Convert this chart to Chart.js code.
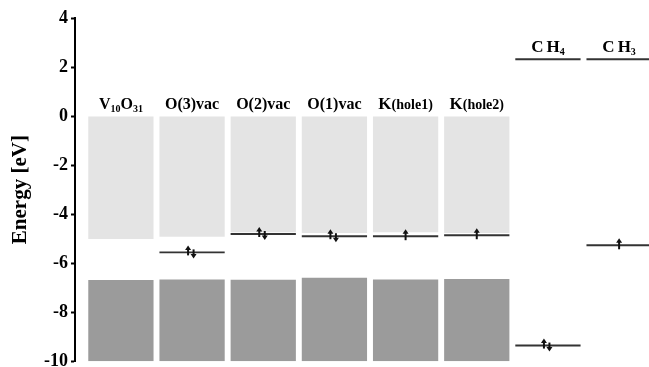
<!DOCTYPE html>
<html>
<head>
<meta charset="utf-8">
<script src="https://cdn.jsdelivr.net/npm/chart.js@4.4.0/dist/chart.umd.min.js"></script>
<style>
  html, body { margin: 0; padding: 0; background: #fff; overflow: hidden; }
  #wrap { width: 649px; height: 371px; position: relative; }
</style>
</head>
<body>
<div id="wrap"><canvas id="c"></canvas></div>
<script>
// Systems compared along the x axis
const systems = ['V10O31', 'O(3)vac', 'O(2)vac', 'O(1)vac', 'K(hole1)', 'K(hole2)', 'CH4', 'CH3'];

// Unoccupied band (light block), eV
const emptyBandTop    = [0, 0, 0, 0, 0, 0];
const emptyBandBottom = [-5.01, -4.92, -4.74, -4.77, -4.74, -4.77];

// Occupied band (dark block), eV
const filledBandTop    = [-6.69, -6.67, -6.68, -6.59, -6.67, -6.65];
const filledBandBottom = [-10, -10, -10, -10, -10, -10];

// Gap states / molecular levels, eV, and their electron count
const levelSystem    = [1, 2, 3, 4, 5, 6, 7];
const levelEnergy    = [-5.56, -4.81, -4.90, -4.90, -4.86, -9.36, -5.27];
const levelElectrons = [2, 2, 2, 1, 1, 2, 1];

// Upper reference level drawn under the gas-phase molecule names, eV
const moleculeSystem = [6, 7];
const moleculeTop    = [2.32, 2.32];

// Energy axis
const yMin = -10, yMax = 4, yStep = 2;

const SERIF = '"Liberation Serif", "Times New Roman", serif';
const LINE_HALF = 0.04; // half thickness of a level line, eV

const bandData = (tops, bottoms) => tops.map((t, i) => ({ x: i, y: [bottoms[i], t] }));
const lineData = (idx, vals) => idx.map((s, i) => ({ x: s, y: [vals[i] - LINE_HALF, vals[i] + LINE_HALF] }));

// Split a system name into rich-text runs (subscripts, small parenthetical)
function labelRuns(name) {
  if (/^K\(/.test(name)) {
    return [{ t: 'K', size: 17 }, { t: name.slice(1), size: 14 }];
  }
  if (name.includes('(')) return [{ t: name, size: 16 }];
  const runs = [];
  const big = /^CH/.test(name) ? 17 : 16;
  name.match(/[A-Za-z]+|\d+/g).forEach(part => {
    if (/\d/.test(part)) runs.push({ t: part, size: 10, sub: true });
    else if (/^CH/.test(name)) part.split('').forEach((ch, k) => runs.push({ t: ch, size: big, gap: k > 0 ? 3 : 0 }));
    else runs.push({ t: part, size: big });
  });
  return runs;
}

function drawRich(ctx, runs, cx, baseline) {
  let total = 0;
  runs.forEach(r => {
    ctx.font = 'bold ' + r.size + 'px ' + SERIF;
    r.w = ctx.measureText(r.t).width;
    total += r.w + (r.gap || 0);
  });
  let x = cx - total / 2;
  ctx.textAlign = 'left';
  ctx.textBaseline = 'alphabetic';
  runs.forEach(r => {
    x += (r.gap || 0);
    ctx.font = 'bold ' + r.size + 'px ' + SERIF;
    ctx.fillText(r.t, x, baseline + (r.sub ? 3 : 0));
    x += r.w;
  });
}

// Spin arrow: shaft plus filled head
function drawArrow(ctx, x, yTail, yHead) {
  const dir = yHead < yTail ? -1 : 1;
  ctx.beginPath();
  ctx.moveTo(x, yTail);
  ctx.lineTo(x, yHead - dir * 3);
  ctx.stroke();
  ctx.beginPath();
  ctx.moveTo(x, yHead);
  ctx.lineTo(x - 3, yHead - dir * 4.5);
  ctx.lineTo(x + 3, yHead - dir * 4.5);
  ctx.closePath();
  ctx.fill();
}

// Names above the columns and spin arrows on the occupied levels
const annotations = {
  id: 'annotations',
  afterDatasetsDraw(chart) {
    const { ctx, scales: { x, y } } = chart;
    ctx.save();
    ctx.fillStyle = '#000';
    systems.forEach((name, i) => {
      const cx = x.getPixelForValue(i);
      const mi = moleculeSystem.indexOf(i);
      const base = mi >= 0 ? y.getPixelForValue(moleculeTop[mi]) - 7 : y.getPixelForValue(emptyBandTop[i]) - 7;
      drawRich(ctx, labelRuns(name), cx, base);
    });
    ctx.strokeStyle = '#111';
    ctx.fillStyle = '#111';
    ctx.lineWidth = 2;
    levelSystem.forEach((s, i) => {
      const cx = x.getPixelForValue(s);
      const py = y.getPixelForValue(levelEnergy[i]);
      if (levelElectrons[i] === 2) {
        drawArrow(ctx, cx - 4, py + 3, py - 7);
        drawArrow(ctx, cx + 1.5, py - 3, py + 6);
      } else {
        drawArrow(ctx, cx, py + 4, py - 7);
      }
    });
    ctx.restore();
  }
};

new Chart(document.getElementById('c'), {
  type: 'bar',
  data: {
    datasets: [
      { label: 'levels', data: lineData(levelSystem, levelEnergy), backgroundColor: '#333', grouped: false },
      { label: 'reference', data: lineData(moleculeSystem, moleculeTop), backgroundColor: '#333', grouped: false },
      { label: 'empty band', data: bandData(emptyBandTop, emptyBandBottom), backgroundColor: '#e4e4e4', grouped: false },
      { label: 'filled band', data: bandData(filledBandTop, filledBandBottom), backgroundColor: '#9b9b9b', grouped: false }
    ]
  },
  options: {
    responsive: true,
    maintainAspectRatio: false,
    animation: false,
    layout: { padding: { top: 18, bottom: 7, left: 0, right: 0 } },
    datasets: { bar: { barPercentage: 0.917, categoryPercentage: 1, borderWidth: 0 } },
    plugins: { legend: { display: false }, tooltip: { enabled: false } },
    scales: {
      x: {
        type: 'linear',
        min: -0.645,
        max: 7.42,
        offset: false,
        display: false,
        grid: { offset: false },
        ticks: { stepSize: 1, includeBounds: false }
      },
      y: {
        min: yMin,
        max: yMax,
        afterFit(scale) { scale.width = 75; },
        ticks: {
          stepSize: yStep,
          color: '#000',
          padding: 3,
          font: { family: SERIF, size: 18, weight: 'bold', lineHeight: 0.75 }
        },
        grid: { drawOnChartArea: false, drawTicks: true, tickLength: 4, tickWidth: 2, tickColor: '#000' },
        border: { display: true, color: '#000', width: 2 },
        title: {
          display: true,
          text: 'Energy [eV]',
          color: '#000',
          font: { family: SERIF, size: 21, weight: 'bold' },
          padding: { top: 8, bottom: 0 }
        }
      }
    }
  },
  plugins: [annotations]
});
</script>
</body>
</html>
